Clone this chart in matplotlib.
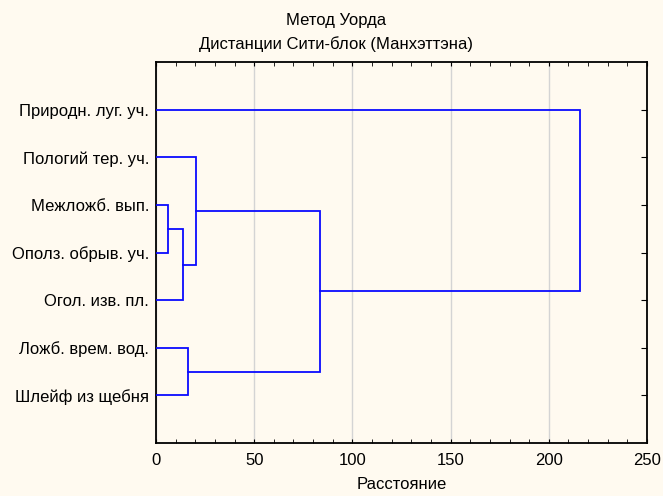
import matplotlib
matplotlib.use("Agg")
import matplotlib.pyplot as plt
from matplotlib.ticker import MultipleLocator

plt.rcParams['font.family'] = ['Liberation Sans', 'DejaVu Sans']

labels = ["Природн. луг. уч.", "Пологий тер. уч.", "Межложб. вып.",
          "Ополз. обрыв. уч.", "Огол. изв. пл.", "Ложб. врем. вод.",
          "Шлейф из щебня"]

# merges: (left cluster, right cluster, distance); new clusters numbered from 7
merge_left = [2, 7, 1, 5, 9, 0]
merge_right = [3, 4, 8, 6, 10, 11]
merge_dist = [6.0, 13.9, 20.2, 16.4, 83.3, 216.0]

bg = '#FFFAF0'
line_col = '#0A0AFF'

fig = plt.figure(figsize=(6.63, 4.96), dpi=100, facecolor=bg)
ax = fig.add_axes([0.2353, 0.1069, 0.7406, 0.7675])
ax.set_facecolor(bg)

ypos = {i: i + 1 for i in range(len(labels))}
xpos = {i: 0.0 for i in range(len(labels))}
for k, (a, b, d) in enumerate(zip(merge_left, merge_right, merge_dist)):
    ax.plot([xpos[a], d, d, xpos[b]], [ypos[a], ypos[a], ypos[b], ypos[b]],
            color=line_col, lw=1.3, solid_joinstyle='miter', zorder=3)
    new = len(labels) + k
    ypos[new] = (ypos[a] + ypos[b]) / 2
    xpos[new] = d

ax.set_xlim(0, 250)
ax.set_ylim(8, 0)
ax.set_yticks(range(1, len(labels) + 1))
ax.set_yticklabels(labels, fontsize=12)
ax.xaxis.set_major_locator(MultipleLocator(50))
ax.xaxis.set_minor_locator(MultipleLocator(10))
ax.tick_params(axis='x', which='both', direction='in', top=True, labelsize=12, pad=7)
ax.tick_params(axis='x', which='major', length=3)
ax.tick_params(axis='x', which='minor', length=3)
ax.tick_params(axis='y', direction='in', left=False, right=True, length=4, pad=5)
ax.grid(axis='x', color='#D4D4D4', lw=1.0, zorder=0)
for s in ax.spines.values():
    s.set_linewidth(1.3)

ax.set_xlabel("Расстояние", fontsize=12, labelpad=7)
fig.text(336 / 663, 1 - 20 / 496, "Метод Уорда", ha='center', va='center', fontsize=12)
fig.text(336 / 663, 1 - 44 / 496, "Дистанции Сити-блок (Манхэттэна)", ha='center', va='center', fontsize=12)

fig.savefig("out.png", dpi=100, facecolor=bg)
